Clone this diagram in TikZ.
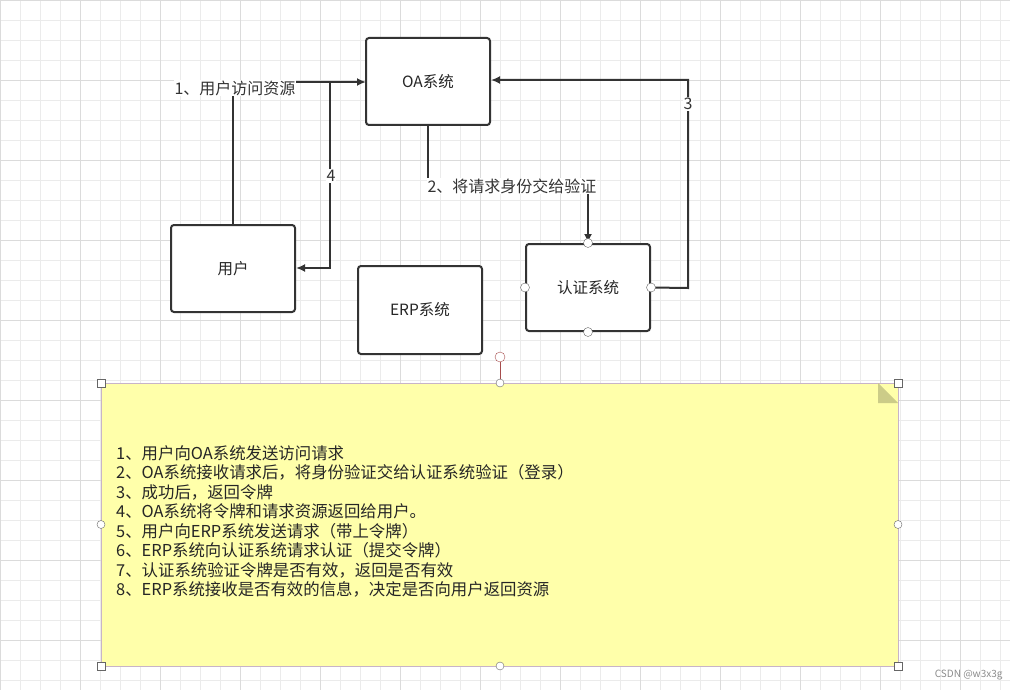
\documentclass[tikz,border=0pt]{standalone}
\usepackage{fontspec}
\usetikzlibrary{arrows.meta}
\setmainfont{Noto Sans CJK SC}
\definecolor{notey}{RGB}{255,255,170}
\definecolor{noteb}{RGB}{200,180,200}
\begin{document}
\begin{tikzpicture}[x=1pt,y=-1pt,
  box/.style={draw=black!80,line width=2pt,rounded corners=3pt,fill=white,font=\fontsize{15.5}{17}\selectfont,text=black!85},
  con/.style={draw=black!80,line width=2pt,-{Latex[length=9pt,width=8pt]}},
  lbl/.style={fill=white,inner sep=1pt,font=\fontsize{16}{18}\selectfont,text=black!80},
  hc/.style={circle,draw=black!60,fill=white,inner sep=0pt,minimum size=8pt},
  hs/.style={rectangle,draw=black!60,fill=white,inner sep=0pt,minimum size=8pt}]
\useasboundingbox (0,0) rectangle (1010,690);
\fill[white] (0,0) rectangle (1010,690);
\foreach \i in {0,20,...,1000} \draw[black!8,line width=0.6pt] (\i,0) -- (\i,690);
\foreach \i in {0,20,...,680} \draw[black!8,line width=0.6pt] (0,\i) -- (1010,\i);
\foreach \i in {0,80,...,1000} \draw[black!14,line width=0.6pt] (\i,0) -- (\i,690);
\foreach \i in {0,80,...,680} \draw[black!14,line width=0.6pt] (0,\i) -- (1010,\i);
\node[box,minimum width=124pt,minimum height=87pt] (oa) at (428,81.5) {OA系统};
\node[box,minimum width=124pt,minimum height=87pt] (user) at (233,268.5) {用户};
\node[box,minimum width=124pt,minimum height=88pt] (erp) at (420,310) {ERP系统};
\node[box,minimum width=124pt,minimum height=87pt] (auth) at (588,287.5) {认证系统};
\coordinate (c1) at (233,82);
\draw[con] (user.north) -- (c1) -- (366,82);
\node[lbl] (l1) at (235,88) {1、用户访问资源};
\coordinate (c4) at (330,82);
\draw[con] (c4) -- (330,268) -- (user.east|-0,268);
\node[lbl] (l4) at (331,176) {4};
\draw[con] (oa.south) -- (428,186) -- (588,186) -- (auth.north);
\node[lbl] (l2) at (512,186) {2、将请求身份交给验证};
\draw[con] (auth.east) -- (688,288) -- (688,80) -- (oa.east|-0,80);
\node[lbl] (l3) at (688,104) {3};
\foreach \p in {north,south,east,west} \node[hc,minimum size=9pt] at (auth.\p) {};
% note
\fill[notey,draw=noteb] (101,383) rectangle (898,666);
\fill[black!20!notey] (878,383) -- (898,403) -- (878,403) -- cycle;
\node[anchor=north west,align=left,inner sep=0pt,font=\fontsize{16.4}{19.5}\selectfont,text=black!85] (note) at (116,445) {1、用户向OA系统发送访问请求\\2、OA系统接收请求后，将身份验证交给认证系统验证（登录）\\3、成功后，返回令牌\\4、OA系统将令牌和请求资源返回给用户。\\5、用户向ERP系统发送请求（带上令牌）\\6、ERP系统向认证系统请求认证（提交令牌）\\7、认证系统验证令牌是否有效，返回是否有效\\8、ERP系统接收是否有效的信息，决定是否向用户返回资源};
\draw[red!50!black!70] (500,383) -- (500,357);
\node[hc,draw=red!50!black!70,minimum size=10pt] (rot) at (500,357) {};
\foreach \x/\y in {101/383,898/383,101/666,898/666} \node[hs] at (\x,\y) {};
\foreach \x/\y in {500/383,101/524.5,898/524.5,500/666} \node[hc] at (\x,\y) {};
\node[text=black!45,font=\fontsize{10}{11}\selectfont,anchor=east] (wm) at (1006,675) {CSDN @w3x3g};
\end{tikzpicture}
\end{document}
